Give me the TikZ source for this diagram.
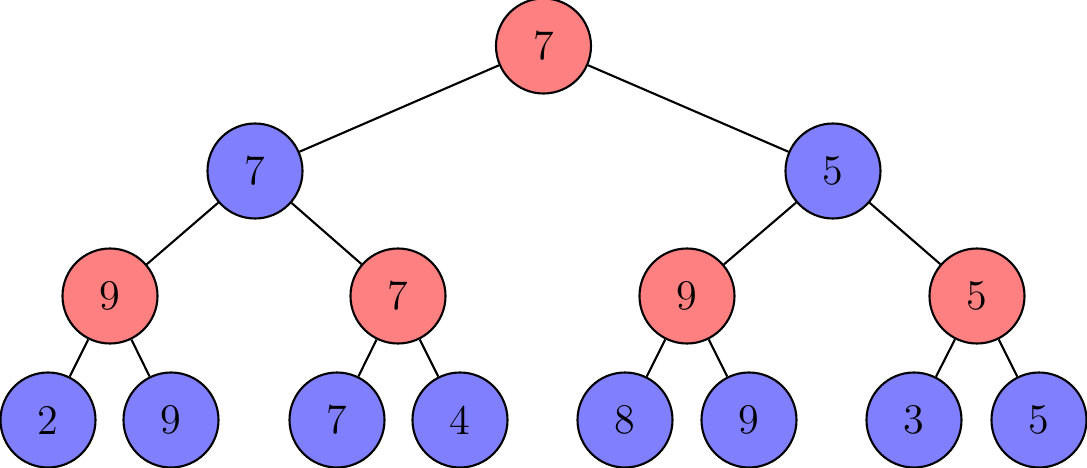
\documentclass[tikz,border=0pt]{standalone}
\usetikzlibrary{positioning}
\tikzset{
  redv/.style={circle,draw,semithick,fill=red!50,minimum size=0.95cm,inner sep=0pt,font=\large},
  bluev/.style={circle,draw,semithick,fill=blue!50,minimum size=0.95cm,inner sep=0pt,font=\large}
}
\begin{document}
\begin{tikzpicture}
    \useasboundingbox (0,0) rectangle (10.87,-4.68);
    % root and inner levels
    \node[redv] (r) at (5.435,-0.46) {7};
    \node[bluev] (a) at (2.55,-1.71) {7};
    \node[bluev] (b) at (8.33,-1.71) {5};
    \node[redv] (aa) at (1.10,-2.96) {9};
    \node[redv] (ab) at (3.98,-2.96) {7};
    \node[redv] (ba) at (6.87,-2.96) {9};
    \node[redv] (bb) at (9.77,-2.96) {5};
    % leaves
    \node[bluev] (aaa) at (0.48,-4.20) {2};
    \node[bluev] (aab) at (1.71,-4.20) {9};
    \node[bluev] (aba) at (3.37,-4.20) {7};
    \node[bluev] (abb) at (4.60,-4.20) {4};
    \node[bluev] (baa) at (6.25,-4.20) {8};
    \node[bluev] (bab) at (7.49,-4.20) {9};
    \node[bluev] (bba) at (9.14,-4.20) {3};
    \node[bluev] (bbb) at (10.39,-4.20) {5};
    % edges
    \foreach \p/\c in {r/a,r/b,a/aa,a/ab,b/ba,b/bb,aa/aaa,aa/aab,ab/aba,ab/abb,ba/baa,ba/bab,bb/bba,bb/bbb}
      \draw[semithick] (\p) -- (\c);
\end{tikzpicture}
\end{document}
